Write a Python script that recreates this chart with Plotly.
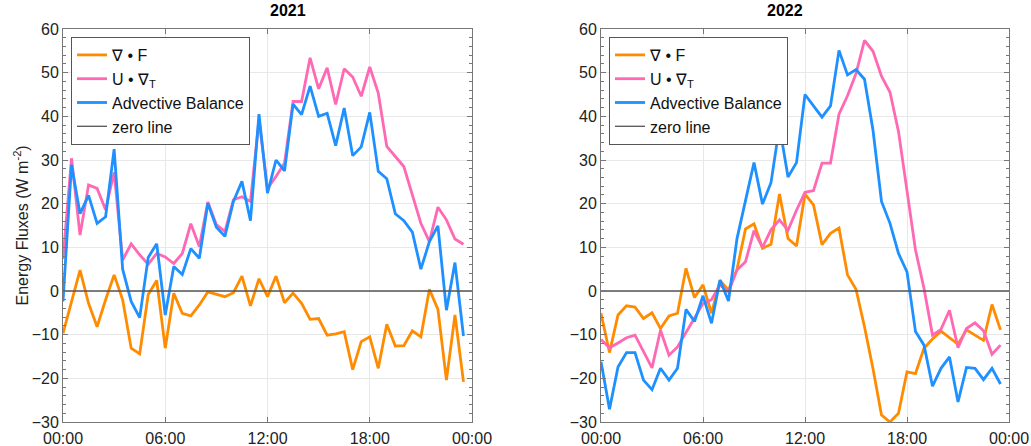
import pandas as pd
import plotly.graph_objects as go

# ---------------- data (half-hourly, 00:00 .. 23:30) ----------------
div_f_2021 = [-9.7, -2.5, 4.8, -2.8, -8.2, -2.0, 3.7, -2.0, -13.1, -14.4, -0.8, 2.4,
              -13.1, -0.5, -5.1, -5.7, -3.2, -0.2, -0.8, -1.3, -0.4, 3.4, -3.4, 2.8,
              -1.3, 3.4, -2.7, -0.5, -2.8, -6.5, -6.3, -10.1, -9.8, -9.3, -18.0, -11.6,
              -10.5, -17.7, -7.6, -12.6, -12.5, -9.1, -10.5, 0.4, -4.2, -20.4, -5.5, -20.8]
u_grad_2021 = [7.3, 30.4, 12.8, 24.3, 23.5, 18.6, 27.2, 7.1, 10.8, 8.3, 6.1, 8.6,
               7.8, 6.3, 8.6, 15.4, 10.2, 20.4, 15.2, 13.6, 20.9, 21.6, 20.5, 39.2,
               23.5, 26.2, 29.3, 43.4, 43.4, 53.4, 46.3, 51.1, 42.7, 50.9, 49.0, 44.6,
               51.3, 45.3, 33.1, 30.7, 28.5, 22.0, 15.5, 11.3, 19.2, 16.3, 11.9, 10.7]
adv_2021 = [-2.4, 28.9, 17.7, 21.9, 15.5, 17.0, 32.5, 5.0, -2.4, -6.1, 7.7, 10.8,
            -5.5, 5.6, 3.8, 9.7, 7.5, 20.1, 14.6, 12.5, 20.5, 25.1, 16.1, 40.5,
            22.4, 30.0, 27.5, 42.8, 40.4, 46.9, 40.0, 40.7, 33.3, 41.9, 31.0, 33.0,
            40.9, 27.4, 25.7, 17.7, 16.1, 13.5, 5.0, 11.3, 14.9, -4.4, 6.5, -10.3]

div_f_2022 = [-5.1, -14.1, -5.5, -3.4, -3.7, -6.3, -5.0, -8.6, -5.7, -5.1, 5.2, -1.5,
              1.4, -5.1, 2.4, 0.2, 5.0, 14.2, 15.4, 9.8, 10.7, 22.2, 12.0, 10.3,
              22.2, 19.7, 10.6, 13.2, 14.4, 3.7, 0.4, -8.2, -17.8, -28.4, -30.0, -28.0,
              -18.5, -18.9, -13.1, -11.0, -9.2, -10.8, -12.2, -8.9, -10.2, -11.3, -3.1, -8.9]
u_grad_2022 = [-11.1, -13.0, -11.9, -10.7, -10.1, -13.9, -17.6, -9.0, -14.7, -12.8, -9.4, -6.1,
               -2.9, -2.0, 1.4, -0.2, 4.8, 6.7, 13.8, 10.0, 14.0, 16.3, 13.9, 18.5,
               22.6, 23.0, 29.3, 29.3, 40.5, 44.7, 49.8, 57.4, 54.9, 49.2, 45.5, 36.5,
               23.2, 9.4, 0.6, -10.1, -8.8, -4.4, -13.0, -8.6, -7.3, -9.1, -14.5, -12.4]
adv_2022 = [-16.2, -27.1, -17.4, -14.1, -14.1, -20.4, -22.6, -17.7, -20.4, -17.7, -4.2, -7.0,
            -1.1, -7.4, 2.5, -2.3, 12.0, 20.5, 29.4, 19.9, 24.8, 37.8, 26.1, 29.4,
            45.0, 42.4, 39.8, 42.4, 55.1, 49.5, 50.7, 48.5, 36.8, 20.5, 15.5, 8.6,
            4.4, -9.3, -12.4, -21.8, -17.7, -15.1, -25.4, -17.5, -17.7, -20.3, -17.7, -21.3]

zero_line = [0, 0]
titles = ["2021", "2022"]
series_names = ["\u2207 \u2022 F", "U \u2022 \u2207<sub>T</sub>", "Advective Balance", "zero line"]
tick_text = ["00:00", "06:00", "12:00", "18:00", "00:00"]

times = pd.date_range("2000-01-01 00:00", periods=48, freq="30min")
day = [pd.Timestamp("2000-01-01 00:00"), pd.Timestamp("2000-01-02 00:00")]
tick_vals = pd.date_range(day[0], day[1], freq="6h")

colors = ["#FF8C00", "#FF69B4", "#1E90FF", "#555555"]

W, H = 1031, 446
fig = go.Figure()

panels = [
    (div_f_2021, u_grad_2021, adv_2021, "x", "y", "legend"),
    (div_f_2022, u_grad_2022, adv_2022, "x2", "y2", "legend2"),
]
for div_f, u_grad, adv, xa, ya, lg in panels:
    for name, vals, col in zip(series_names[:3], [div_f, u_grad, adv], colors[:3]):
        fig.add_trace(go.Scatter(x=times, y=vals, mode="lines", name=name,
                                 line=dict(color=col, width=2.8),
                                 xaxis=xa, yaxis=ya, legend=lg))
    fig.add_trace(go.Scatter(x=day, y=zero_line, mode="lines", name=series_names[3],
                             line=dict(color=colors[3], width=1.3),
                             xaxis=xa, yaxis=ya, legend=lg))

font_fam = "Liberation Sans, Arial, sans-serif"
axis_common = dict(showline=True, linecolor="#777777", linewidth=1, mirror="ticks",
                   ticks="inside", ticklen=5, tickcolor="#777777", automargin=False,
                   showgrid=True, gridcolor="#E8E8E8", gridwidth=1, zeroline=False,
                   tickfont=dict(family=font_fam, size=16, color="#222222"))

xdoms = [[63 / W, 472 / W], [601 / W, 1009 / W]]
ydom = [24 / H, 417 / H]

layout = dict(width=W, height=H, margin=dict(l=0, r=0, t=0, b=0, autoexpand=False),
              paper_bgcolor="white", plot_bgcolor="white",
              font=dict(family=font_fam, size=16, color="#222222"))
for k, (xa, ya) in enumerate([("xaxis", "yaxis"), ("xaxis2", "yaxis2")]):
    layout[xa] = dict(domain=xdoms[k], anchor="y" if k == 0 else "y2", type="date",
                      range=day, tickvals=tick_vals, ticktext=tick_text, ticklabelstandoff=2,
                      **axis_common)
    layout[ya] = dict(domain=ydom, anchor="x" if k == 0 else "x2", range=[-30, 60],
                      tickvals=list(range(-30, 61, 10)),
                      minor=dict(dtick=2, ticks="inside", ticklen=3, tickcolor="#777777", showgrid=False),
                      **axis_common)

legend_common = dict(xanchor="left", yanchor="top", bgcolor="white",
                     bordercolor="#555555", borderwidth=1,
                     font=dict(family=font_fam, size=16, color="#111111"),
                     tracegroupgap=0, itemwidth=30)
layout["legend"] = dict(x=71 / W, y=1 - 37 / H, **legend_common)
layout["legend2"] = dict(x=609 / W, y=1 - 37 / H, **legend_common)

annotations = []
for k, t in enumerate(titles):
    annotations.append(dict(text="<b>%s</b>" % t, x=(xdoms[k][0] + xdoms[k][1]) / 2, y=1 - 11 / H,
                            xref="paper", yref="paper", showarrow=False, yanchor="middle",
                            font=dict(family=font_fam, size=16, color="#000000")))
annotations.append(dict(text="Energy Fluxes (W m<sup>-2</sup>)", x=22 / W, y=(ydom[0] + ydom[1]) / 2,
                        xref="paper", yref="paper", showarrow=False, textangle=-90,
                        xanchor="center", yanchor="middle",
                        font=dict(family=font_fam, size=16, color="#222222")))
layout["annotations"] = annotations
layout["showlegend"] = True

fig.update_layout(**layout)
fig.write_html("out.html")
